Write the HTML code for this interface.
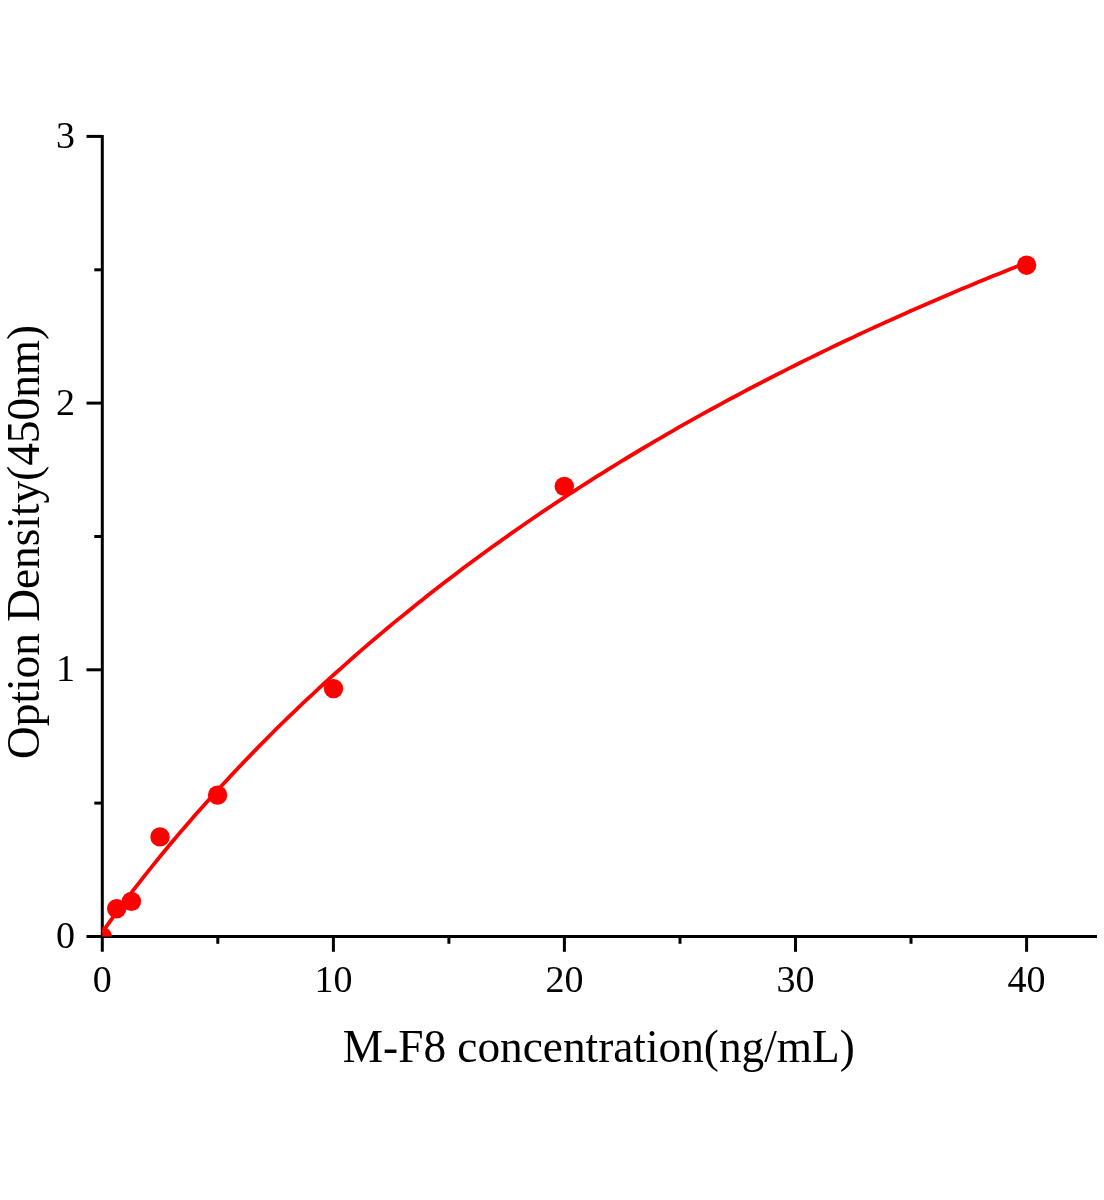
<!DOCTYPE html>
<html lang="en"><head><meta charset="utf-8"><title>M-F8 standard curve</title>
<style>html,body{margin:0;padding:0;background:#fff}body{width:1104px;height:1200px;overflow:hidden}svg{display:block}text{font-family:"Liberation Serif","Times New Roman",serif;fill:#000}</style></head><body>
<svg width="1104" height="1200" viewBox="0 0 1104 1200">
<rect width="1104" height="1200" fill="#fff"/>
<defs><clipPath id="plot"><rect x="102.3" y="100" width="1000" height="836.5"/></clipPath></defs>
<g stroke="#000" stroke-width="3.0" fill="none" stroke-linecap="butt">
<path d="M86.5 936.5 H1097"/>
<path d="M102.3 134.9 V951.8"/>
<path d="M333.4 936.5 V951.8"/>
<path d="M564.4 936.5 V951.8"/>
<path d="M795.5 936.5 V951.8"/>
<path d="M1026.6 936.5 V951.8"/>
<path d="M217.8 936.5 V943.8"/>
<path d="M448.9 936.5 V943.8"/>
<path d="M680.0 936.5 V943.8"/>
<path d="M911.0 936.5 V943.8"/>
<path d="M86.5 669.8 H102.3"/>
<path d="M86.5 403.1 H102.3"/>
<path d="M86.5 136.4 H102.3"/>
<path d="M94.3 803.1 H102.3"/>
<path d="M94.3 536.5 H102.3"/>
<path d="M94.3 269.8 H102.3"/>
</g>
<g clip-path="url(#plot)">
<path d="M102.3 932.4 L103.5 930.7 L109.3 922.4 L115.1 914.4 L120.9 906.5 L126.7 898.8 L132.5 891.2 L138.3 883.8 L144.1 876.4 L149.9 869.1 L155.7 861.9 L161.5 854.8 L167.3 847.8 L173.1 840.8 L178.9 833.9 L184.7 827.2 L190.5 820.4 L196.3 813.8 L202.2 807.2 L208.0 800.7 L213.8 794.3 L219.6 788.0 L225.4 781.7 L231.2 775.4 L237.0 769.3 L242.8 763.1 L248.6 757.1 L254.4 751.1 L260.2 745.2 L266.0 739.3 L271.8 733.5 L277.6 727.7 L283.4 722.0 L289.2 716.4 L295.0 710.8 L300.9 705.2 L306.7 699.7 L312.5 694.3 L318.3 688.9 L324.1 683.5 L329.9 678.2 L335.7 673.0 L341.5 667.8 L347.3 662.6 L353.1 657.5 L358.9 652.4 L364.7 647.4 L370.5 642.4 L376.3 637.5 L382.1 632.6 L387.9 627.7 L393.7 622.9 L399.6 618.1 L405.4 613.4 L411.2 608.7 L417.0 604.0 L422.8 599.4 L428.6 594.8 L434.4 590.3 L440.2 585.8 L446.0 581.3 L451.8 576.9 L457.6 572.5 L463.4 568.1 L469.2 563.8 L475.0 559.5 L480.8 555.2 L486.6 551.0 L492.4 546.8 L498.3 542.6 L504.1 538.5 L509.9 534.4 L515.7 530.3 L521.5 526.3 L527.3 522.3 L533.1 518.3 L538.9 514.3 L544.7 510.4 L550.5 506.5 L556.3 502.7 L562.1 498.8 L567.9 495.0 L573.7 491.3 L579.5 487.5 L585.3 483.8 L591.1 480.1 L596.9 476.4 L602.8 472.8 L608.6 469.2 L614.4 465.6 L620.2 462.0 L626.0 458.5 L631.8 455.0 L637.6 451.5 L643.4 448.0 L649.2 444.6 L655.0 441.2 L660.8 437.8 L666.6 434.4 L672.4 431.1 L678.2 427.7 L684.0 424.4 L689.8 421.2 L695.6 417.9 L701.5 414.7 L707.3 411.4 L713.1 408.3 L718.9 405.1 L724.7 401.9 L730.5 398.8 L736.3 395.7 L742.1 392.6 L747.9 389.5 L753.7 386.5 L759.5 383.5 L765.3 380.5 L771.1 377.5 L776.9 374.5 L782.7 371.6 L788.5 368.6 L794.3 365.7 L800.2 362.8 L806.0 359.9 L811.8 357.1 L817.6 354.2 L823.4 351.4 L829.2 348.6 L835.0 345.8 L840.8 343.0 L846.6 340.3 L852.4 337.6 L858.2 334.8 L864.0 332.1 L869.8 329.4 L875.6 326.8 L881.4 324.1 L887.2 321.5 L893.0 318.9 L898.9 316.3 L904.7 313.7 L910.5 311.1 L916.3 308.5 L922.1 306.0 L927.9 303.5 L933.7 300.9 L939.5 298.4 L945.3 296.0 L951.1 293.5 L956.9 291.0 L962.7 288.6 L968.5 286.2 L974.3 283.7 L980.1 281.3 L985.9 278.9 L991.7 276.6 L997.6 274.2 L1003.4 271.9 L1009.2 269.5 L1015.0 267.2 L1020.8 264.9 L1026.6 262.6" fill="none" stroke="#fe0000" stroke-width="3.8" stroke-linejoin="round"/>
<circle cx="102.3" cy="936.5" r="9.7" fill="#fe0000"/>
<circle cx="116.7" cy="908.7" r="9.7" fill="#fe0000"/>
<circle cx="131.4" cy="901.4" r="9.7" fill="#fe0000"/>
<circle cx="160" cy="836.9" r="9.7" fill="#fe0000"/>
<circle cx="217.6" cy="795.1" r="9.7" fill="#fe0000"/>
<circle cx="333.5" cy="688.6" r="9.7" fill="#fe0000"/>
<circle cx="564.3" cy="486.4" r="9.7" fill="#fe0000"/>
<circle cx="1026.6" cy="265.2" r="9.7" fill="#fe0000"/>
</g>
<text x="102.3" y="992" font-size="38" text-anchor="middle">0</text>
<text x="333.4" y="992" font-size="38" text-anchor="middle">10</text>
<text x="564.4" y="992" font-size="38" text-anchor="middle">20</text>
<text x="795.5" y="992" font-size="38" text-anchor="middle">30</text>
<text x="1026.6" y="992" font-size="38" text-anchor="middle">40</text>
<text x="75" y="948.0" font-size="38" text-anchor="end">0</text>
<text x="75" y="681.3" font-size="38" text-anchor="end">1</text>
<text x="75" y="414.6" font-size="38" text-anchor="end">2</text>
<text x="75" y="147.9" font-size="38" text-anchor="end">3</text>
<text transform="translate(598.8 1062) scale(0.9763 1)" font-size="46.4" text-anchor="middle">M-F8 concentration(ng/mL)</text>
<text transform="translate(39.2 541.9) rotate(-90) scale(0.9763 1)" font-size="46.4" text-anchor="middle">Option Density(450nm)</text>
</svg></body></html>
